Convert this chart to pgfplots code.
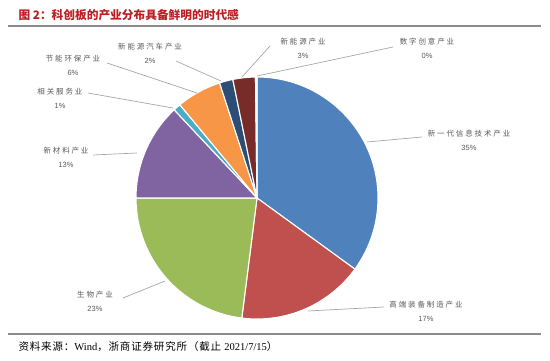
\documentclass[border=0pt]{standalone}
\usepackage{pgfplots}
\pgfplotsset{compat=1.18}
\usepackage{fontspec}
\setmainfont{Liberation Serif}
\newfontfamily\cjk{Noto Sans CJK SC}
\newfontfamily\cjksrc[LetterSpace=8]{Noto Sans CJK SC}
\newfontfamily\cjklab[LetterSpace=25]{Noto Sans CJK SC}
\newfontfamily\lab{Liberation Sans}
\definecolor{c1}{HTML}{4F81BD}
\definecolor{c2}{HTML}{C0504D}
\definecolor{c3}{HTML}{9BBB59}
\definecolor{c4}{HTML}{8064A2}
\definecolor{c5}{HTML}{4BACC6}
\definecolor{c6}{HTML}{F79646}
\definecolor{c7}{HTML}{2C4D75}
\definecolor{c8}{HTML}{772C2A}
\definecolor{c9}{HTML}{A5A5A5}
\definecolor{titlered}{RGB}{190,30,35}
\definecolor{labgray}{HTML}{595959}
\definecolor{leadgray}{HTML}{A6A6A6}
\begin{document}
\begin{tikzpicture}
\begin{axis}[x=1pt, y=1pt, xmin=0, xmax=550, ymin=0, ymax=361,
  y dir=reverse, hide axis, clip=false]
\path (axis cs:0,0) rectangle (axis cs:550,361);
% title and rules
\node[anchor=west, text=titlered, font=\cjk\bfseries\fontsize{11.7}{13}\selectfont] at (axis cs:15,15) {图 2：科创板的产业分布具备鲜明的时代感};
\draw[gray!90, line width=1.3pt] (axis cs:8,26) -- (axis cs:541,26);
\draw[gray!90, line width=1.3pt] (axis cs:8,334) -- (axis cs:541,334);
\node[anchor=west, font=\fontsize{10.5}{12}\selectfont] at (axis cs:15,347) {{\cjksrc 资料来源：}Wind{\cjksrc ，浙商证券研究所（截止 }2021/7/15{\cjksrc ）}};
% pie slices (values in %, clockwise from top)
\gdef\cur{90}
\foreach \v/\c in {35/c1,17/c2,23/c3,13/c4,1/c5,6/c6,1.8/c7,3/c8,0.2/c9}{
  \pgfmathsetmacro\nxt{\cur-3.6*\v}
  \edef\temp{\noexpand\fill[\c, draw=white, line width=1.1pt, line join=round] (axis cs:257,198) -- ++(\cur:121pt) arc[start angle=\cur, end angle=\nxt, radius=121pt] -- cycle;}
  \temp
  \xdef\cur{\nxt}
}
% leader lines
\begin{scope}[leadgray, line width=0.7pt]
\draw (axis cs:367,142) -- (axis cs:422,137);
\draw (axis cs:308,311) -- (axis cs:384,307);
\draw (axis cs:123,298) -- (axis cs:165,281);
\draw (axis cs:93,155) -- (axis cs:137,153);
\draw (axis cs:88,93) -- (axis cs:173,108);
\draw (axis cs:107,63) -- (axis cs:197,93);
\draw (axis cs:176,61) -- (axis cs:221,81);
\draw (axis cs:270,46) -- (axis cs:242,77);
\draw (axis cs:393,47) -- (axis cs:257,76);
\end{scope}
% labels
\begin{scope}[every node/.style={text=labgray, inner sep=0pt}]
\foreach \x/\y/\n/\p in {
  469/134/新一代信息技术产业/35,
  426/305/高端装备制造产业/17,
  95/295/生物产业/23,
  66/151/新材料产业/13,
  60/92/相关服务业/1,
  73/59/节能环保产业/6,
  150/47/新能源汽车产业/2,
  303/42/新能源产业/3,
  427/42/数字创意产业/0}{
  \edef\temp{\noexpand\node[font=\noexpand\cjklab\noexpand\fontsize{7.5}{9}\noexpand\selectfont] at (axis cs:\x,\y) {\n};
  \noexpand\node[font=\noexpand\lab\noexpand\fontsize{7.5}{9}\noexpand\selectfont] at (axis cs:\x,\y+14) {\p\noexpand\%};}
  \temp
}
\end{scope}
\end{axis}
\end{tikzpicture}
\end{document}
